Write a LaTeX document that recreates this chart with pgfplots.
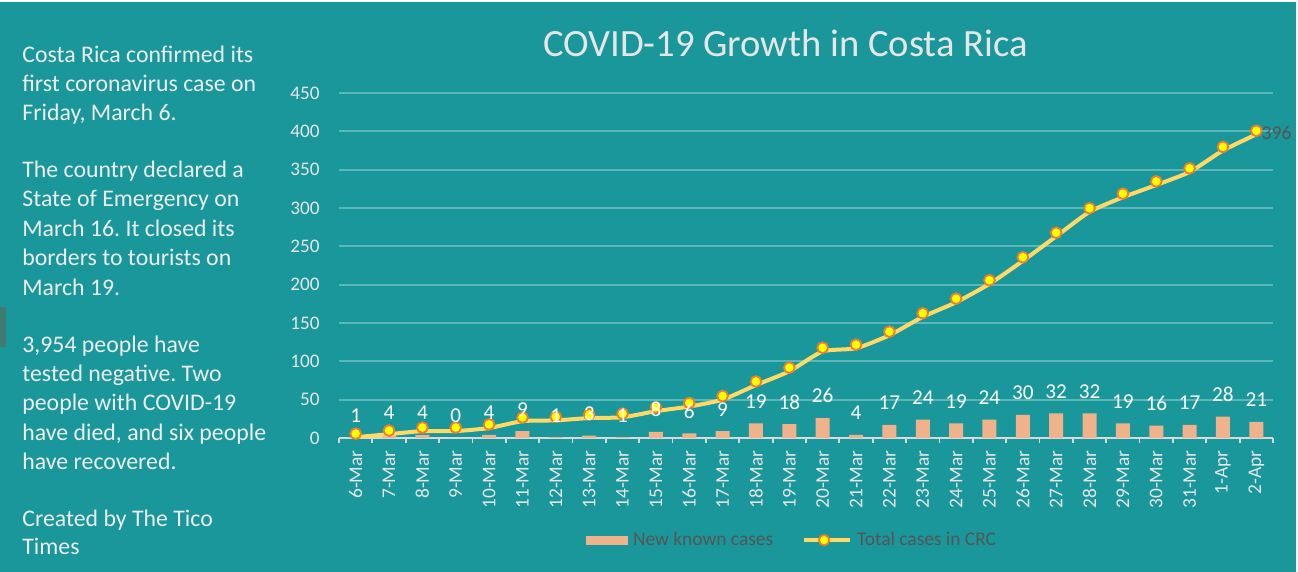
\documentclass[border=0pt]{standalone}
\usepackage{fontspec}
\setmainfont{Carlito}
\usepackage{pgfplots}
\usepackage{pgfplotstable}
\pgfplotsset{compat=1.18}
\frenchspacing

\definecolor{bgteal}{HTML}{1A979A}
\definecolor{gridteal}{HTML}{5DB6B8}
\definecolor{axisgray}{HTML}{D9D9D9}
\definecolor{lightgray}{HTML}{E6E6E6}
\definecolor{textgray}{HTML}{EDEDED}
\definecolor{darkgray}{HTML}{555555}
\definecolor{barorange}{HTML}{F0B28A}
\definecolor{linegold}{HTML}{FFD966}
\definecolor{markorange}{HTML}{ED7D31}
\definecolor{markyellow}{HTML}{FFFF00}
\definecolor{edgeblock}{HTML}{417A73}

% day index, new known cases, total cases
\pgfplotstableread{
x new total
0 1 1
1 4 5
2 4 9
3 0 9
4 4 13
5 9 22
6 1 23
7 3 26
8 1 27
9 8 35
10 6 41
11 9 50
12 19 69
13 18 87
14 26 113
15 4 117
16 17 134
17 24 158
18 19 177
19 24 201
20 30 231
21 32 263
22 32 295
23 19 314
24 16 330
25 17 347
26 28 375
27 21 396
}\covid

\begin{document}
\begin{tikzpicture}[x=1pt,y=1pt]
\useasboundingbox (0,0) rectangle (649,286);
\fill[bgteal] (0,0) rectangle (649,286);
\fill[white] (0,285) rectangle (649,286);
\fill[white!92!gray] (648,0) rectangle (649,286);
\fill[edgeblock] (0,112.5) rectangle (3,132.5);

% side notes
\foreach \yy/\tt in {
  254.5/{Costa Rica confirmed its},
  240/{first coronavirus case on},
  225.5/{Friday, March 6.},
  197/{The country declared a},
  182.5/{State of Emergency on},
  167.5/{March 16. It closed its},
  153/{borders to tourists on},
  138/{March 19.},
  109.5/{3,954 people have},
  95/{tested negative. Two},
  80.5/{people with COVID-19},
  65.5/{have died, and six people},
  51/{have recovered.},
  22.5/{Created by The Tico},
  8.5/{Times}}{
  \node[anchor=base west, inner sep=0pt, text=textgray,
        font=\fontsize{11.9}{14}\selectfont] at (11,\yy) {\tt};
}

\node[anchor=base, inner sep=0pt, text=lightgray,
      font=\fontsize{19.3}{22}\selectfont] at (392.75,257.5)
  {COVID-19 Growth in Costa Rica};

\begin{axis}[
    at={(169.5pt,67pt)}, anchor=south west,
    scale only axis, width=467pt, height=172.5pt,
    clip=false,
    xmin=-0.5, xmax=27.5,
    ymin=0, ymax=450,
    xtick={0,...,27},
    xticklabels={6-Mar,7-Mar,8-Mar,9-Mar,10-Mar,11-Mar,12-Mar,13-Mar,14-Mar,15-Mar,16-Mar,17-Mar,18-Mar,19-Mar,20-Mar,21-Mar,22-Mar,23-Mar,24-Mar,25-Mar,26-Mar,27-Mar,28-Mar,29-Mar,30-Mar,31-Mar,1-Apr,2-Apr},
    minor xtick={-0.5,0.5,...,27.5},
    ytick={0,50,...,450},
    ymajorgrids,
    grid style={gridteal, line width=0.9pt},
    axis lines*=left,
    x axis line style={draw=axisgray, line width=0.9pt},
    y axis line style={draw=none},
    tick align=outside,
    major tick length=0pt,
    minor tick length=2.6pt,
    minor tick style={draw=axisgray, line width=0.9pt},
    ytick style={draw=none},
    /pgf/number format/assume math mode=true,
    xticklabel style={rotate=90, anchor=east, inner sep=0pt, text=lightgray,
                      font=\fontsize{9.7}{11}\selectfont},
    xticklabel shift=6pt,
    yticklabel style={anchor=east, inner sep=0pt, text=lightgray,
                      font=\fontsize{9.6}{11}\selectfont},
    yticklabel shift=9.5pt,
    legend columns=-1,
    legend style={at={(0.484,-0.296)}, anchor=center, draw=none, fill=none,
                  text=darkgray, font=\fontsize{9.7}{11}\selectfont,
                  nodes={inner sep=0pt},
                  /tikz/every odd column/.style={column sep=2.5pt},
                  /tikz/every even column/.style={column sep=14.5pt}},
  ]
  \addplot[ybar, bar width=7pt, fill=barorange, draw=none,
           legend image code/.code={\fill[barorange] (0pt,-2.25pt) rectangle (21pt,2.25pt);}]
    table[x=x, y=new] {\covid};
  \addlegendentry{New known cases}
  \addplot[linegold, line width=2pt, smooth, tension=0.35,
           mark=*, mark size=2.7pt,
           mark options={draw=markorange, fill=markyellow, line width=0.9pt, yshift=1.8pt},
           legend image code/.code={
             \draw[linegold, line width=2pt] (0pt,0pt) -- (23pt,0pt);
             \draw[markorange, fill=markyellow, line width=0.9pt] (10pt,0pt) circle (2.6pt);}]
    table[x=x, y=total] {\covid};
  \addlegendentry{Total cases in CRC}
  % data labels of the bars, drawn above the line
  \addplot[draw=none, mark=none, forget plot,
           nodes near coords,
           nodes near coords style={font=\fontsize{10.6}{12}\selectfont,
                                    text=white, anchor=south, inner sep=0pt, yshift=7.3pt}]
    table[x=x, y=new] {\covid};
  \node[anchor=west, inner sep=0pt, xshift=2.5pt, yshift=0.5pt, text=darkgray,
        font=\fontsize{9.8}{11}\selectfont] at (axis cs:27,396) {396};
\end{axis}
\end{tikzpicture}
\end{document}
